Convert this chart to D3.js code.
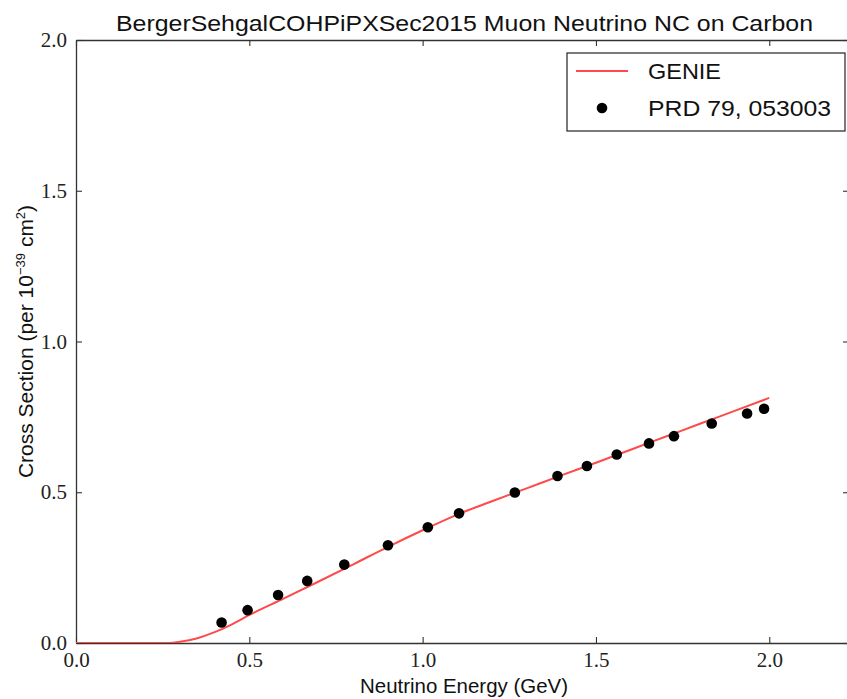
<!DOCTYPE html>
<html>
<head>
<meta charset="utf-8">
<script src="https://cdn.jsdelivr.net/npm/d3@7"></script>
<style>
  html, body { margin: 0; padding: 0; background: #fff; }
  svg { display: block; }
</style>
</head>
<body>
<svg id="chart" width="847" height="699"></svg>
<script>
// GENIE prediction (energy in GeV, cross section per 1e-39 cm^2)
const genieE  = [0.0, 0.1, 0.2, 0.25, 0.27, 0.3, 0.35, 0.4, 0.45, 0.5, 0.6, 0.7, 0.8, 0.9, 1.0, 1.1, 1.2, 1.3, 1.4, 1.5, 1.6, 1.7, 1.8, 1.9, 2.0];
const genieXS = [0.0, 0.0, 0.0, 0.0, 0.0, 0.004, 0.016, 0.036, 0.062, 0.093, 0.148, 0.204, 0.261, 0.319, 0.374, 0.426, 0.470, 0.513, 0.556, 0.598, 0.641, 0.684, 0.727, 0.770, 0.813];

// PRD 79, 053003 points
const dataE  = [0.420, 0.495, 0.583, 0.667, 0.774, 0.900, 1.015, 1.105, 1.266, 1.389, 1.474, 1.560, 1.653, 1.725, 1.834, 1.936, 1.985];
const dataXS = [0.068, 0.109, 0.159, 0.206, 0.260, 0.324, 0.384, 0.430, 0.499, 0.554, 0.587, 0.625, 0.662, 0.686, 0.728, 0.761, 0.777];

const xTicks = [0.0, 0.5, 1.0, 1.5, 2.0];
const yTicks = [0.0, 0.5, 1.0, 1.5, 2.0];

const titleText = "BergerSehgalCOHPiPXSec2015 Muon Neutrino NC on Carbon";
const xLabel = "Neutrino Energy (GeV)";
const legendLabels = ["GENIE", "PRD 79, 053003"];
const legendWidths = [73, 183];

const svg = d3.select("#chart");
const plotL = 76, plotR = 849, plotT = 40, plotB = 643;

const x = d3.scaleLinear().domain([0, 2.23]).range([plotL, plotR]);
const y = d3.scaleLinear().domain([0, 2.0]).range([plotB, plotT]);

const axisColor = "#333";
const tickFont = "'Liberation Serif', 'DejaVu Serif', serif";
const sansFont = "'Liberation Sans', Arial, Helvetica, sans-serif";

// axes with inward ticks on all four sides
const tickLen = 6;
const axB = d3.axisBottom(x).tickValues(xTicks).tickFormat(d3.format(".1f")).tickSizeInner(-tickLen).tickSizeOuter(0).tickPadding(9);
const axT = d3.axisTop(x).tickValues(xTicks).tickFormat("").tickSizeInner(-tickLen).tickSizeOuter(0);
const axL = d3.axisLeft(y).tickValues(yTicks).tickFormat(d3.format(".1f")).tickSizeInner(-tickLen).tickSizeOuter(0).tickPadding(9);
const axR = d3.axisRight(y).tickValues(yTicks).tickFormat("").tickSizeInner(-tickLen).tickSizeOuter(0);

function styleAxis(g) {
  g.selectAll("path").attr("stroke", axisColor).attr("stroke-width", 1.3);
  g.selectAll("line").attr("stroke", axisColor).attr("stroke-width", 1.1);
  g.selectAll("text").attr("fill", "#222").style("font-family", tickFont).style("font-size", "21px");
}

svg.append("g").attr("transform", `translate(0,${plotB})`).call(axB).call(styleAxis);
svg.append("g").attr("transform", `translate(0,${plotT})`).call(axT).call(styleAxis);
svg.append("g").attr("transform", `translate(${plotL},0)`).call(axL).call(styleAxis);
svg.append("g").attr("transform", `translate(${plotR},0)`).call(axR).call(styleAxis);

// clip to plotting area
svg.append("clipPath").attr("id", "plotclip")
  .append("rect").attr("x", plotL).attr("y", plotT).attr("width", plotR - plotL).attr("height", plotB - plotT);

const plot = svg.append("g").attr("clip-path", "url(#plotclip)");

const lineGen = d3.line()
  .x((d, i) => x(genieE[i]))
  .y((d, i) => y(genieXS[i]))
  .curve(d3.curveMonotoneX);

plot.append("path")
  .datum(genieXS)
  .attr("d", lineGen)
  .attr("fill", "none")
  .attr("stroke", "#ff4a4a")
  .attr("stroke-width", 2);

plot.selectAll("circle.pt")
  .data(dataE)
  .enter().append("circle")
  .attr("class", "pt")
  .attr("cx", d => x(d))
  .attr("cy", (d, i) => y(dataXS[i]))
  .attr("r", 5.3)
  .attr("fill", "#000");

// title
svg.append("text")
  .attr("x", 464.5)
  .attr("y", 31)
  .attr("text-anchor", "middle")
  .attr("textLength", 697)
  .attr("lengthAdjust", "spacingAndGlyphs")
  .style("font-family", sansFont)
  .style("font-size", "22px")
  .attr("fill", "#111")
  .text(titleText);

// x label
svg.append("text")
  .attr("x", 464)
  .attr("y", 693)
  .attr("text-anchor", "middle")
  .attr("textLength", 208)
  .attr("lengthAdjust", "spacingAndGlyphs")
  .style("font-family", sansFont)
  .style("font-size", "20px")
  .attr("fill", "#111")
  .text(xLabel);

// y label with superscripts
const yl = svg.append("text")
  .attr("transform", `translate(33,${(plotT + plotB) / 2}) rotate(-90)`)
  .attr("text-anchor", "middle")
  .style("font-family", sansFont)
  .style("font-size", "21px")
  .attr("fill", "#111");
yl.append("tspan").text("Cross Section (per 10");
yl.append("tspan").attr("dy", -8).style("font-size", "13px").text("\u221239");
yl.append("tspan").attr("dy", 8).text(" cm");
yl.append("tspan").attr("dy", -8).style("font-size", "13px").text("2");
yl.append("tspan").attr("dy", 8).text(")");

// legend
const lg = svg.append("g");
lg.append("rect")
  .attr("x", 567).attr("y", 53).attr("width", 278).attr("height", 78)
  .attr("fill", "#fff").attr("stroke", axisColor).attr("stroke-width", 1.3);
lg.append("line")
  .attr("x1", 576).attr("x2", 628).attr("y1", 71).attr("y2", 71)
  .attr("stroke", "#ff4a4a").attr("stroke-width", 2);
lg.append("circle").attr("cx", 602).attr("cy", 108).attr("r", 5.3).attr("fill", "#000");
lg.selectAll("text.lab")
  .data(legendLabels)
  .enter().append("text")
  .attr("class", "lab")
  .attr("x", 648)
  .attr("y", (d, i) => 79 + i * 37)
  .attr("textLength", (d, i) => legendWidths[i])
  .attr("lengthAdjust", "spacingAndGlyphs")
  .style("font-family", sansFont)
  .style("font-size", "21.5px")
  .attr("fill", "#111")
  .text(d => d);
</script>
</body>
</html>
